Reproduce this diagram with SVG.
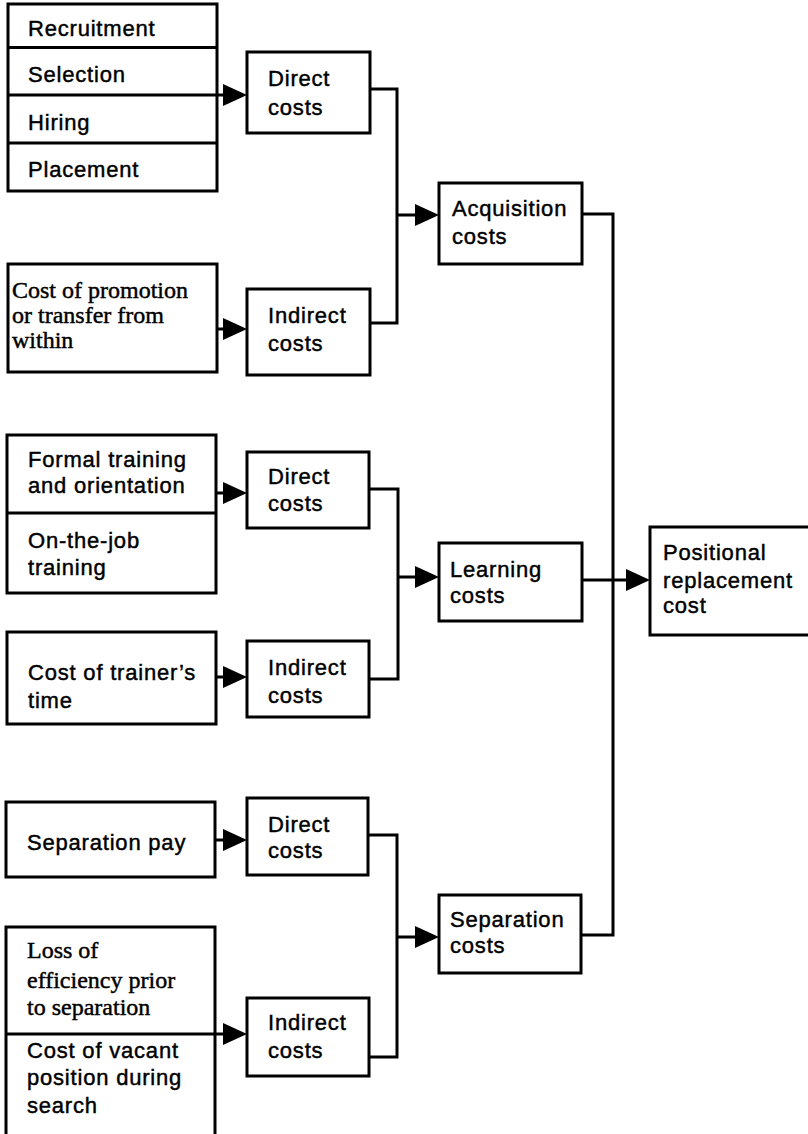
<svg xmlns="http://www.w3.org/2000/svg" width="808" height="1134" viewBox="0 0 808 1134">
  <style>
    .box { fill: #fff; stroke: #000; stroke-width: 3; }
    .div { stroke: #000; stroke-width: 3; fill: none; }
    .sans { font-family: "Liberation Sans", Arial, sans-serif; font-size: 22px; letter-spacing: 0.8px; fill: #000; stroke: #000; stroke-width: 0.45px; }
    .serif { font-family: "Liberation Serif", "Times New Roman", serif; font-size: 24px; fill: #000; stroke: #000; stroke-width: 0.45px; }
    .link { stroke: #000; stroke-width: 3; fill: none; stroke-linejoin: miter; }
    .arrow { stroke: #000; stroke-width: 3; fill: none; marker-end: url(#head); }
  </style>
  <defs>
    <marker id="head" markerUnits="userSpaceOnUse" markerWidth="24" markerHeight="24" viewBox="0 0 24 24" refX="17" refY="12" orient="auto">
      <path d="M0,1 L24,12 L0,23 Z" fill="#000"/>
    </marker>
  </defs>
  <rect width="808" height="1134" fill="#fff"/>

  <!-- connectors -->
  <g id="connectors">
    <!-- acquisition branch -->
    <path class="arrow" d="M217,95 H240"/>
    <path class="arrow" d="M217,329 H240"/>
    <path class="link" d="M370,89 H397 V323 H370"/>
    <path class="arrow" d="M397,215 H432"/>
    <!-- learning branch -->
    <path class="arrow" d="M216,493 H240"/>
    <path class="arrow" d="M216,677 H240"/>
    <path class="link" d="M369,489 H398 V679 H369"/>
    <path class="arrow" d="M398,577 H432"/>
    <!-- separation branch -->
    <path class="arrow" d="M215,840 H240"/>
    <path class="arrow" d="M215,1034 H240"/>
    <path class="link" d="M368,835 H397 V1057 H369"/>
    <path class="arrow" d="M397,937 H432"/>
    <!-- totals -->
    <path class="link" d="M582,214 H613 V935 H581"/>
    <path class="arrow" d="M582,580 H643"/>
  </g>

  <!-- acquisition inputs -->
  <g id="acq-direct-items">
    <rect class="box" x="8" y="4" width="209" height="187"/>
    <line class="div" x1="8" y1="47.5" x2="217" y2="47.5"/>
    <line class="div" x1="8" y1="95" x2="217" y2="95"/>
    <line class="div" x1="8" y1="143" x2="217" y2="143"/>
    <text class="sans" x="28" y="36">Recruitment</text>
    <text class="sans" x="28" y="82">Selection</text>
    <text class="sans" x="28" y="130">Hiring</text>
    <text class="sans" x="28" y="177">Placement</text>
  </g>
  <g id="acq-direct">
    <rect class="box" x="247" y="52" width="123" height="81"/>
    <text class="sans" x="268" y="86">Direct</text>
    <text class="sans" x="268" y="115">costs</text>
  </g>
  <g id="acq-indirect-items">
    <rect class="box" x="8" y="264" width="209" height="108"/>
    <text class="serif" x="12" y="298">Cost of promotion</text>
    <text class="serif" x="12" y="323">or transfer from</text>
    <text class="serif" x="12" y="348">within</text>
  </g>
  <g id="acq-indirect">
    <rect class="box" x="247" y="289" width="123" height="86"/>
    <text class="sans" x="268" y="323">Indirect</text>
    <text class="sans" x="268" y="351">costs</text>
  </g>
  <g id="acquisition">
    <rect class="box" x="439" y="183" width="143" height="81"/>
    <text class="sans" x="452" y="216">Acquisition</text>
    <text class="sans" x="452" y="244">costs</text>
  </g>

  <!-- learning inputs -->
  <g id="learn-direct-items">
    <rect class="box" x="7" y="435" width="209" height="158"/>
    <line class="div" x1="7" y1="513" x2="216" y2="513"/>
    <text class="sans" x="28" y="467">Formal training</text>
    <text class="sans" x="28" y="493">and orientation</text>
    <text class="sans" x="28" y="548">On-the-job</text>
    <text class="sans" x="28" y="575">training</text>
  </g>
  <g id="learn-direct">
    <rect class="box" x="247" y="452" width="122" height="76"/>
    <text class="sans" x="268" y="484">Direct</text>
    <text class="sans" x="268" y="511">costs</text>
  </g>
  <g id="learn-indirect-items">
    <rect class="box" x="7" y="632" width="209" height="92"/>
    <text class="sans" x="28" y="680">Cost of trainer’s</text>
    <text class="sans" x="28" y="708">time</text>
  </g>
  <g id="learn-indirect">
    <rect class="box" x="247" y="641" width="122" height="76"/>
    <text class="sans" x="268" y="675">Indirect</text>
    <text class="sans" x="268" y="703">costs</text>
  </g>
  <g id="learning">
    <rect class="box" x="439" y="543" width="143" height="78"/>
    <text class="sans" x="450" y="577">Learning</text>
    <text class="sans" x="450" y="603">costs</text>
  </g>

  <!-- separation inputs -->
  <g id="sep-direct-items">
    <rect class="box" x="6" y="802" width="209" height="75"/>
    <text class="sans" x="27" y="850">Separation pay</text>
  </g>
  <g id="sep-direct">
    <rect class="box" x="247" y="798" width="121" height="77"/>
    <text class="sans" x="268" y="832">Direct</text>
    <text class="sans" x="268" y="858">costs</text>
  </g>
  <g id="sep-indirect-items">
    <rect class="box" x="6" y="927" width="209" height="230"/>
    <line class="div" x1="6" y1="1034" x2="215" y2="1034"/>
    <text class="serif" x="27" y="958">Loss of</text>
    <text class="serif" x="27" y="988">efficiency prior</text>
    <text class="serif" x="27" y="1015">to separation</text>
    <text class="sans" x="27" y="1058">Cost of vacant</text>
    <text class="sans" x="27" y="1085">position during</text>
    <text class="sans" x="27" y="1113">search</text>
  </g>
  <g id="sep-indirect">
    <rect class="box" x="247" y="998" width="122" height="78"/>
    <text class="sans" x="268" y="1030">Indirect</text>
    <text class="sans" x="268" y="1058">costs</text>
  </g>
  <g id="separation">
    <rect class="box" x="439" y="895" width="142" height="78"/>
    <text class="sans" x="450" y="927">Separation</text>
    <text class="sans" x="450" y="953">costs</text>
  </g>

  <!-- total -->
  <g id="positional">
    <rect class="box" x="650" y="527" width="170" height="108"/>
    <text class="sans" x="663" y="560">Positional</text>
    <text class="sans" x="663" y="588">replacement</text>
    <text class="sans" x="663" y="613">cost</text>
  </g>
</svg>
